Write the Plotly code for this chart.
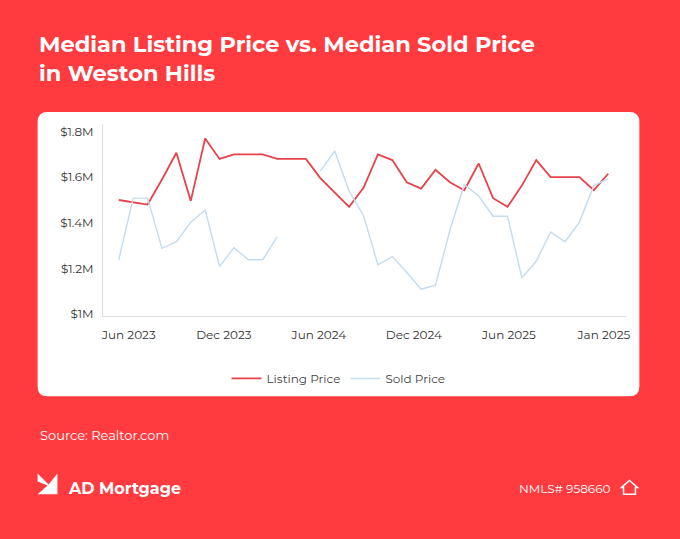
import plotly.graph_objects as go

W, H = 680, 539
RED_BG = "#ff3b3f"

# ── Data ─────────────────────────────────────────────────────────────────────
idx = list(range(35))
listing_price = [1.50, 1.49, 1.48, 1.59, 1.707, 1.496, 1.77, 1.68, 1.70, 1.70,
                 1.70, 1.68, 1.68, 1.68, 1.596, 1.535, 1.47, 1.553, 1.70, 1.675,
                 1.578, 1.55, 1.632, 1.578, 1.543, 1.66, 1.508, 1.47, 1.563, 1.675,
                 1.60, 1.60, 1.60, 1.543, 1.615]
sold_price = [1.238, 1.508, 1.508, 1.288, 1.317, 1.403, 1.456, 1.209, 1.29, 1.238,
              1.238, 1.338, None, None, 1.628, 1.715, 1.539, 1.432, 1.216, 1.252,
              1.183, 1.109, 1.126, 1.367, 1.568, 1.518, 1.429, 1.429, 1.159, 1.231,
              1.36, 1.317, 1.403, 1.563, 1.594]
tick_pos = [0.7, 7.3, 13.9, 20.5, 27.1, 33.7]
tick_text = ["Jun 2023", "Dec 2023", "Jun 2024", "Dec 2024", "Jun 2025", "Jan 2025"]
y_ticks = [1.0, 1.2, 1.4, 1.6, 1.8]
y_text = ["$1M", "$1.2M", "$1.4M", "$1.6M", "$1.8M"]


def px(x):
    return x / W


def py(y):
    return 1 - y / H


fig = go.Figure()
fig.add_trace(go.Scatter(x=idx, y=listing_price, name="Listing Price", mode="lines",
                         line=dict(color="#e8424a", width=1.8)))
fig.add_trace(go.Scatter(x=idx, y=sold_price, name="Sold Price", mode="lines",
                         line=dict(color="#c3dcee", width=1.4)))

# ── White rounded card ───────────────────────────────────────────────────────
x0, x1, y0, y1, r = 36, 644, 113, 400, 10
card = (f"M {px(x0 + r)} {py(y0)} L {px(x1 - r)} {py(y0)} "
        f"Q {px(x1)} {py(y0)} {px(x1)} {py(y0 + r)} L {px(x1)} {py(y1 - r)} "
        f"Q {px(x1)} {py(y1)} {px(x1 - r)} {py(y1)} L {px(x0 + r)} {py(y1)} "
        f"Q {px(x0)} {py(y1)} {px(x0)} {py(y1 - r)} L {px(x0)} {py(y0 + r)} "
        f"Q {px(x0)} {py(y0)} {px(x0 + r)} {py(y0)} Z")
logo = (f"M {px(36)} {py(478)} L {px(47)} {py(489)} L {px(56)} {py(478)} L {px(56)} {py(499)} "
        f"L {px(36)} {py(499)} L {px(46)} {py(490)} L {px(36)} {py(486)} Z")
house = (f"M {px(626)} {py(492)} L {px(634)} {py(485)} L {px(642)} {py(492)} L {px(640)} {py(492)} "
         f"L {px(640)} {py(499)} L {px(628)} {py(499)} L {px(628)} {py(492)} Z")
fig.update_layout(shapes=[
    dict(type="path", xref="paper", yref="paper", path=card, fillcolor="white",
         line=dict(width=0), layer="below"),
    dict(type="path", xref="paper", yref="paper", path=logo, fillcolor="white",
         line=dict(width=0)),
    dict(type="path", xref="paper", yref="paper", path=house, fillcolor="rgba(0,0,0,0)",
         line=dict(color="white", width=1.5)),
])

ann = [
    dict(text="<b>Median Listing Price vs. Median Sold Price<br>in Weston Hills</b>",
         x=px(35), y=py(28), xanchor="left", yanchor="top", align="left",
         font=dict(size=22.5, color="white")),
    dict(text="Source: Realtor.com", x=px(36), y=py(439), xanchor="left", yanchor="middle",
         font=dict(size=13, color="white")),
    dict(text="<b>AD Mortgage</b>", x=px(65), y=py(493), xanchor="left", yanchor="middle",
         font=dict(size=16, color="white")),
    dict(text="NMLS# 958660", x=px(616), y=py(493), xanchor="right", yanchor="middle",
         font=dict(size=12, color="white")),
]
for a in ann:
    a.update(xref="paper", yref="paper", showarrow=False)

fig.update_layout(
    width=W, height=H,
    margin=dict(l=0, r=0, t=0, b=0),
    paper_bgcolor=RED_BG, plot_bgcolor="white",
    font=dict(family="Montserrat, Inter, sans-serif", color="#333333", size=12),
    annotations=ann,
    xaxis=dict(domain=[px(102), px(630)], range=[-1.1, 35.2], tickvals=tick_pos,
               ticktext=tick_text, showgrid=False, zeroline=False, showline=True,
               linecolor="#dddddd", ticks="outside", ticklen=8, tickcolor="rgba(0,0,0,0)"),
    yaxis=dict(domain=[py(319), py(125)], range=[0.991, 1.834], tickvals=y_ticks,
               ticktext=y_text, showgrid=False, zeroline=False, showline=True,
               linecolor="#dddddd", ticks="outside", ticklen=6, tickcolor="rgba(0,0,0,0)"),
    legend=dict(orientation="h", x=0.5, xanchor="center", y=py(382), yanchor="middle",
                font=dict(size=12, color="#444444"), bgcolor="rgba(0,0,0,0)"),
    showlegend=True,
)
fig.write_html("out.html", config={"displayModeBar": False},
               post_script="document.body.style.margin='0';"
                           "document.body.style.overflow='hidden';"
                           "document.documentElement.style.overflow='hidden';")
